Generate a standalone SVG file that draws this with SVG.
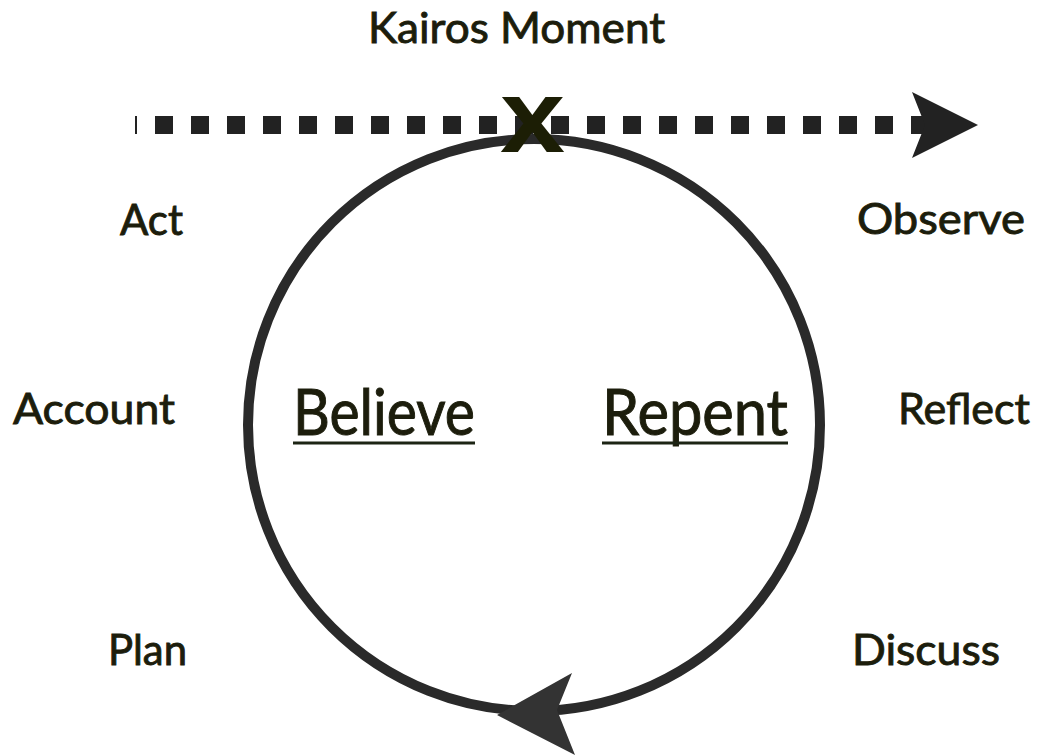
<svg xmlns="http://www.w3.org/2000/svg" width="1041" height="756" viewBox="0 0 1041 756">
<style>
.lbl{font-family:Lato,"Liberation Sans",sans-serif;font-size:43px;fill:#1c1d0c;stroke:#1c1d0c;stroke-width:0.9px}
.big{font-family:Lato,"Liberation Sans",sans-serif;font-size:64px;fill:#1c1d0c;stroke:#1c1d0c;stroke-width:1px}
.ul{stroke:#1c2414;stroke-width:3}
</style>
<rect width="1041" height="756" fill="#ffffff"/>
<g id="connectors">
<line x1="135" y1="125" x2="926" y2="125" stroke="#222222" stroke-width="18" stroke-dasharray="18 18" stroke-dashoffset="16"/>
<polygon points="912,92 978,125 912,158 925,125" fill="#222222"/>
<circle cx="534" cy="425" r="286" fill="none" stroke="#2a2a2a" stroke-width="10"/>
<polygon points="497,715 572,673 557,710 575,755" fill="#333333"/>
</g>
<g id="kairos-x"><text x="500" y="152" font-family="'Liberation Sans',sans-serif" font-weight="bold" font-size="104" fill="#1c1e05" textLength="65" lengthAdjust="spacingAndGlyphs">x</text></g>
<g id="kairos"><text class="lbl" x="368" y="43" textLength="297" lengthAdjust="spacingAndGlyphs">Kairos Moment</text></g>
<g id="act"><text class="lbl" x="120" y="235" textLength="63" lengthAdjust="spacingAndGlyphs">Act</text></g>
<g id="observe"><text class="lbl" x="857" y="234" textLength="168" lengthAdjust="spacingAndGlyphs">Observe</text></g>
<g id="account"><text class="lbl" x="13" y="424" textLength="162" lengthAdjust="spacingAndGlyphs">Account</text></g>
<g id="reflect"><text class="lbl" x="898" y="424" textLength="132" lengthAdjust="spacingAndGlyphs">Reflect</text></g>
<g id="plan"><text class="lbl" x="108" y="665" textLength="79" lengthAdjust="spacingAndGlyphs">Plan</text></g>
<g id="discuss"><text class="lbl" x="852" y="665" textLength="148" lengthAdjust="spacingAndGlyphs">Discuss</text></g>
<g id="believe"><text class="big" x="293" y="435" textLength="182" lengthAdjust="spacingAndGlyphs">Believe</text><line class="ul" x1="293" y1="443" x2="475" y2="443"/></g>
<g id="repent"><text class="big" x="602" y="435" textLength="186" lengthAdjust="spacingAndGlyphs">Repent</text><line class="ul" x1="602" y1="443" x2="788" y2="443"/></g>
</svg>
